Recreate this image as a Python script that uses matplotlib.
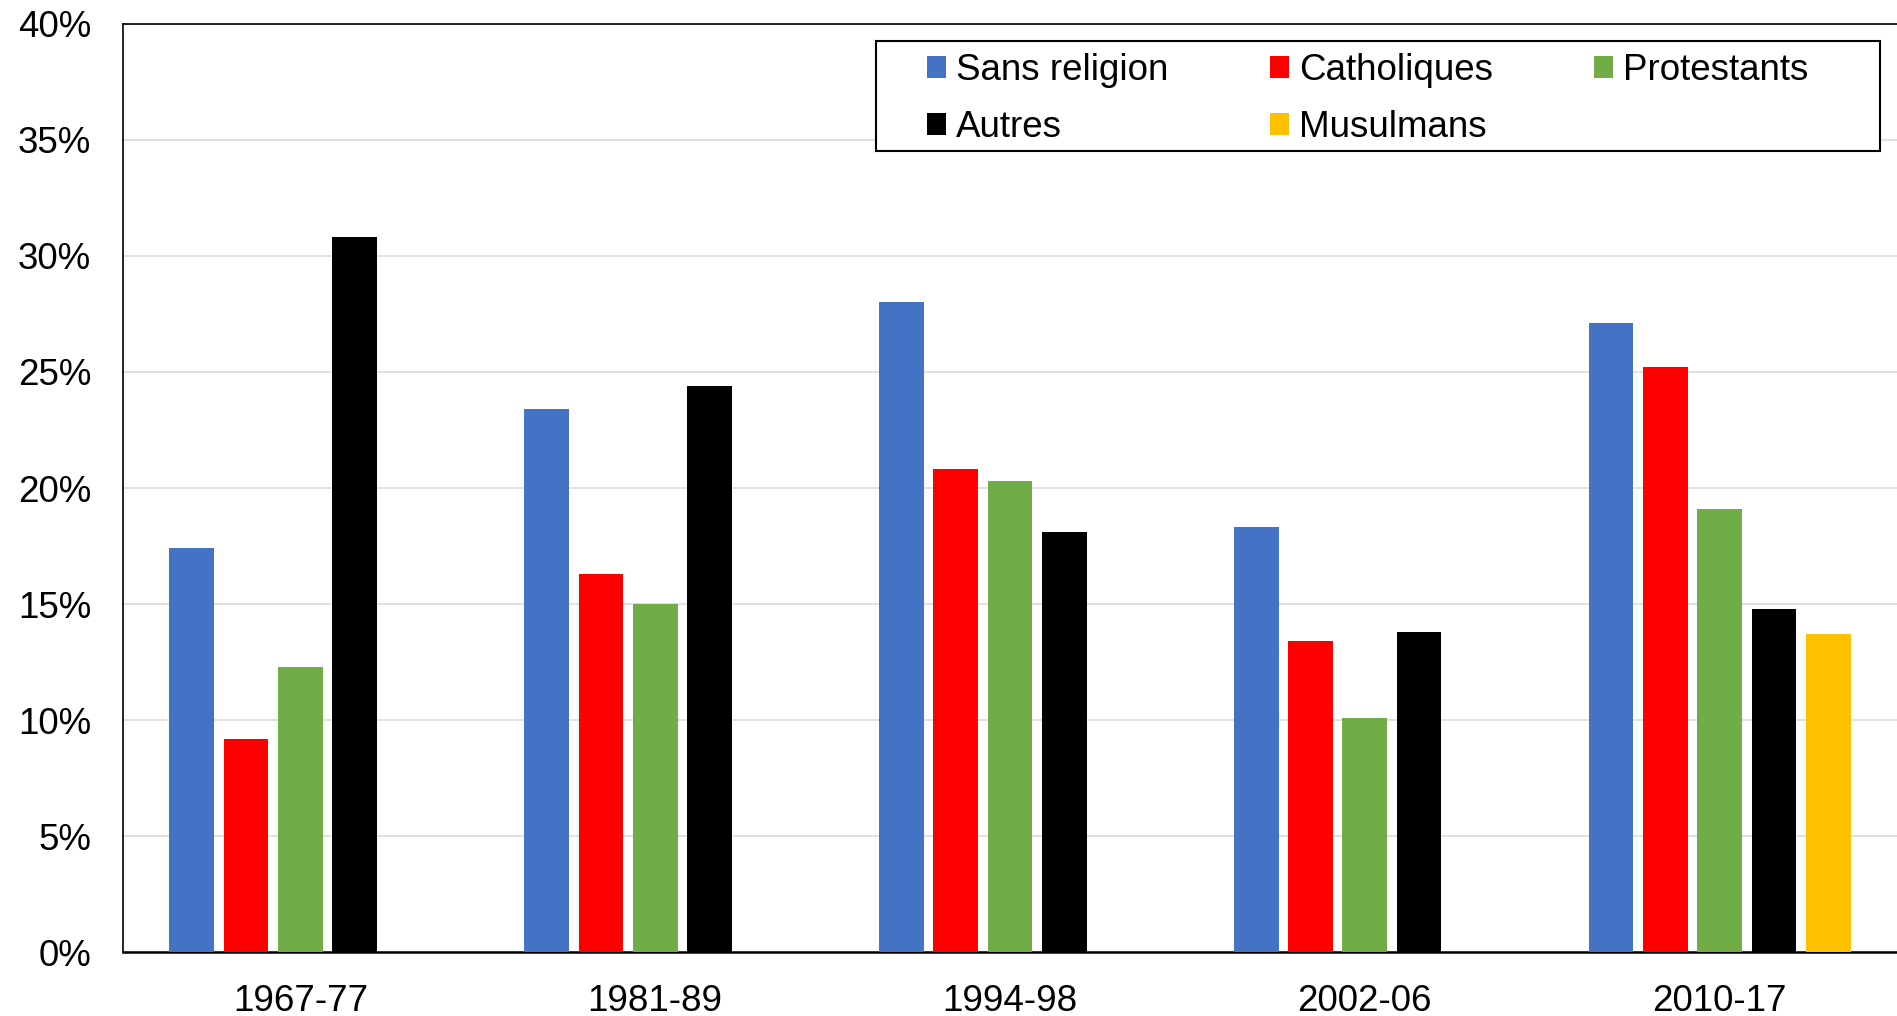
import numpy as np
import matplotlib
matplotlib.use("Agg")
import matplotlib.pyplot as plt
from matplotlib.patches import Rectangle
from matplotlib.ticker import FuncFormatter

plt.rcParams['font.family'] = ['Liberation Sans', 'DejaVu Sans']

periods = ["1967-77", "1981-89", "1994-98", "2002-06", "2010-17"]
series_names = ["Sans religion", "Catholiques", "Protestants", "Autres", "Musulmans"]
sans_religion = [17.4, 23.4, 28.0, 18.3, 27.1]
catholiques = [9.2, 16.3, 20.8, 13.4, 25.2]
protestants = [12.3, 15.0, 20.3, 10.1, 19.1]
autres = [30.8, 24.4, 18.1, 13.8, 14.8]
musulmans = [np.nan, np.nan, np.nan, np.nan, 13.7]
colors = ["#4472C4", "#FF0000", "#70AD47", "#000000", "#FFC000"]
yticks = [0, 5, 10, 15, 20, 25, 30, 35, 40]

W, H = 1897, 1016
fig = plt.figure(figsize=(W / 100, H / 100), dpi=100)
ax = fig.add_axes([123 / W, 1 - 952 / H, 1 - 123 / W, (952 - 24) / H])

slot = 0.1531
bw = 0.126
x = np.arange(len(periods))
all_series = [sans_religion, catholiques, protestants, autres, musulmans]
handles = []
for i, (vals, name, c) in enumerate(zip(all_series, series_names, colors)):
    b = ax.bar(x + (i - 2) * slot, vals, width=bw, color=c, label=name, zorder=3)
    handles.append(b)

ax.set_xlim(-0.5, 4.5)
ax.set_ylim(0, 40)
ax.set_yticks(yticks)
ax.yaxis.set_major_formatter(FuncFormatter(lambda v, p: f"{int(v)}%"))
ax.set_xticks(x)
ax.set_xticklabels(periods)
ax.tick_params(axis='y', length=0, pad=23, labelsize=26.5)
ax.tick_params(axis='x', length=0, pad=23, labelsize=26.5)
ax.grid(axis='y', color='#D9D9D9', linewidth=1.1, zorder=0)
ax.set_axisbelow(True)
for s in ['left', 'top', 'bottom']:
    ax.spines[s].set_color('black')
ax.spines['left'].set_linewidth(1.2)
ax.spines['top'].set_linewidth(1.2)
ax.spines['bottom'].set_linewidth(1.8)
ax.spines['right'].set_visible(False)

# legend frame
rect = Rectangle((876 / W, 1 - 151 / H), (1880 - 876) / W, (151 - 41) / H,
                 transform=fig.transFigure, facecolor='white', edgecolor='black',
                 linewidth=1.5, zorder=5)
fig.patches.append(rect)
order = [0, 3, 1, 4, 2]  # row-wise filling like the reference
leg = fig.legend(handles=[handles[k] for k in order],
                 labels=[series_names[k] for k in order], ncol=3, frameon=False,
                 loc='upper left', bbox_to_anchor=(927 / W, 1 - 53 / H),
                 borderpad=0, borderaxespad=0, fontsize=26.5,
                 handlelength=0.52, handleheight=0.52, handletextpad=0.27,
                 columnspacing=2.75, labelspacing=0.6)
leg.set_zorder(6)

fig.savefig("out.png", dpi=100)
